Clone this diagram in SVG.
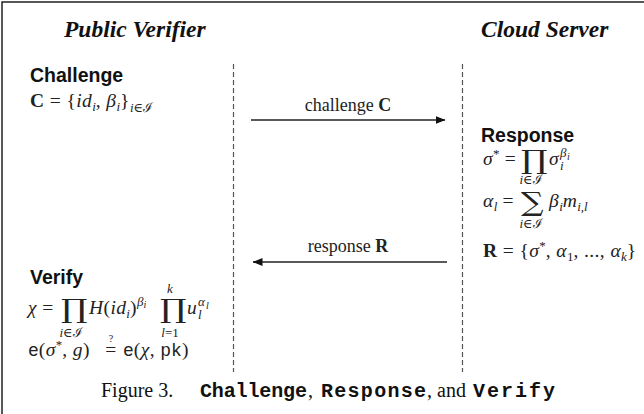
<svg xmlns="http://www.w3.org/2000/svg" width="644" height="414" viewBox="0 0 644 414">
  <defs>
    <style>
      .hdr { font-family: "Liberation Serif", "Times New Roman", serif; font-size: 23.5px; font-weight: bold; font-style: italic; fill: #111; }
      .hd  { font-family: "Liberation Sans", Arial, sans-serif; font-size: 19.5px; font-weight: bold; fill: #111; }
      .m   { font-family: "Liberation Serif", "DejaVu Serif", serif; font-size: 19.5px; letter-spacing: 0.4px; fill: #222; }
      .i   { font-style: italic; }
      .b   { font-weight: bold; }
      .s   { font-size: 13px; letter-spacing: 0; }
      .xs  { font-size: 10px; letter-spacing: 0; }
      .op  { font-family: "DejaVu Serif", serif; font-size: 26px; letter-spacing: 0; }
      .tt  { font-family: "Liberation Mono", "DejaVu Sans Mono", monospace; font-size: 18px; letter-spacing: 0; }
      .lbl { font-family: "Liberation Serif", serif; font-size: 18px; fill: #222; }
      .cap { font-family: "Liberation Serif", "Times New Roman", serif; font-size: 20px; fill: #111; }
      .capm { font-family: "Liberation Mono", "Courier New", monospace; font-weight: bold; font-size: 20px; fill: #111; }
      .life { stroke: #555; stroke-width: 1.2; stroke-dasharray: 5 3; fill: none; }
      .msg { stroke: #222; stroke-width: 1.3; fill: none; }
    </style>
    <marker id="arr" viewBox="0 0 10 8" refX="9.5" refY="4" markerWidth="10" markerHeight="8" markerUnits="userSpaceOnUse" orient="auto">
      <path d="M0,0 L10,4 L0,8 Z" fill="#111"/>
    </marker>
  </defs>

  <!-- frame edges -->
  <path d="M2,414 V2 H644" fill="none" stroke="#222" stroke-width="1.5"/>

  <!-- party titles -->
  <g id="verifier-title"><text class="hdr" x="64" y="37">Public Verifier</text></g>
  <g id="server-title"><text class="hdr" x="481" y="37">Cloud Server</text></g>

  <!-- lifelines and messages -->
  <g id="connectors">
    <line class="life" x1="233.5" y1="64" x2="233.5" y2="372"/>
    <line class="life" x1="462.5" y1="64" x2="462.5" y2="372"/>
    <line class="msg" x1="251" y1="120" x2="445" y2="120" marker-end="url(#arr)"/>
    <line class="msg" x1="447" y1="262" x2="253" y2="262" marker-end="url(#arr)"/>
    <text class="lbl" x="348" y="111" text-anchor="middle">challenge <tspan class="b">C</tspan></text>
    <text class="lbl" x="348" y="252" text-anchor="middle">response <tspan class="b">R</tspan></text>
  </g>

  <!-- Challenge step -->
  <g id="challenge">
    <text class="hd" x="30" y="82">Challenge</text>
    <text class="m" x="30" y="107"><tspan class="b">C</tspan> = {<tspan class="i">id</tspan><tspan class="s i" dy="4">i</tspan><tspan dy="-4">, </tspan><tspan class="i">β</tspan><tspan class="s i" dy="4">i</tspan><tspan dy="-4">}</tspan><tspan class="s i" dy="5">i</tspan><tspan class="s">∈ℐ</tspan></text>
  </g>

  <!-- Response step -->
  <g id="response">
    <text class="hd" x="481" y="142">Response</text>
    <!-- sigma* = prod sigma_i^beta_i -->
    <text class="m" x="483" y="165"><tspan class="i">σ</tspan><tspan class="s" dy="-7">*</tspan><tspan dy="7"> =</tspan></text>
    <text class="m op" transform="translate(521 169) scale(1.28 1)">∏</text>
    <text class="m s" x="531" y="184" text-anchor="middle"><tspan class="i">i</tspan>∈ℐ</text>
    <text class="m i" x="549" y="165">σ</text>
    <text class="m s i" x="560" y="170">i</text>
    <text class="m s i" x="560" y="157">β</text>
    <text class="m xs i" x="567" y="160">i</text>
    <!-- alpha_l = sum beta_i m_i,l -->
    <text class="m" x="483" y="207"><tspan class="i">α</tspan><tspan class="s i" dy="4">l</tspan><tspan dy="-4"> =</tspan></text>
    <text class="m op" transform="translate(521 211) scale(1.22 1)">∑</text>
    <text class="m s" x="531" y="228" text-anchor="middle"><tspan class="i">i</tspan>∈ℐ</text>
    <text class="m" x="549" y="207"><tspan class="i">β</tspan><tspan class="s i" dy="4">i</tspan><tspan class="i" dy="-4">m</tspan><tspan class="s i" dy="4">i,l</tspan></text>
    <!-- R = {sigma*, alpha_1, ..., alpha_k} -->
    <text class="m" x="483" y="257"><tspan class="b">R</tspan> = {<tspan class="i">σ</tspan><tspan class="s" dy="-7">*</tspan><tspan dy="7">, </tspan><tspan class="i">α</tspan><tspan class="s" dy="4">1</tspan><tspan dy="-4">, ..., </tspan><tspan class="i">α</tspan><tspan class="s i" dy="4">k</tspan><tspan dy="-4">}</tspan></text>
  </g>

  <!-- Verify step -->
  <g id="verify">
    <text class="hd" x="30" y="284">Verify</text>
    <text class="m" x="28" y="314"><tspan class="i">χ</tspan> =</text>
    <text class="m op" transform="translate(61 318) scale(1.28 1)">∏</text>
    <text class="m s" x="71" y="337" text-anchor="middle"><tspan class="i">i</tspan>∈ℐ</text>
    <text class="m" x="89" y="314"><tspan class="i">H</tspan>(<tspan class="i">id</tspan><tspan class="s i" dy="4">i</tspan><tspan dy="-4">)</tspan><tspan class="s i" dy="-8">β</tspan><tspan class="xs i" dy="2">i</tspan></text>
    <text class="m op" transform="translate(160 318) scale(1.28 1)">∏</text>
    <text class="m s i" x="170" y="293" text-anchor="middle">k</text>
    <text class="m s" x="170" y="337" text-anchor="middle"><tspan class="i">l</tspan>=1</text>
    <text class="m i" x="187" y="314">u</text>
    <text class="m s i" x="198" y="319">l</text>
    <text class="m s i" x="198" y="306">α</text>
    <text class="m xs i" x="206" y="309">l</text>
    <!-- pairing check -->
    <text class="m" x="28" y="356"><tspan class="tt">e</tspan>(<tspan class="i">σ</tspan><tspan class="s" dy="-7">*</tspan><tspan dy="7">, </tspan><tspan class="i">g</tspan>)</text>
    <text class="m" x="111" y="356" text-anchor="middle">=</text>
    <text class="m xs" x="111" y="342" text-anchor="middle">?</text>
    <text class="m" x="123" y="356"><tspan class="tt">e</tspan>(<tspan class="i">χ</tspan>, <tspan class="tt">pk</tspan>)</text>
  </g>

  <!-- caption -->
  <g id="caption">
    <text class="cap" x="101" y="397">Figure 3.</text>
    <text class="capm" x="200" y="397" textLength="107" lengthAdjust="spacing">Challenge</text>
    <text class="cap" x="308" y="397">,</text>
    <text class="capm" x="321" y="397" textLength="105" lengthAdjust="spacing">Response</text>
    <text class="cap" x="427" y="397">, and</text>
    <text class="capm" x="473" y="397" textLength="82" lengthAdjust="spacing">Verify</text>
  </g>
</svg>
